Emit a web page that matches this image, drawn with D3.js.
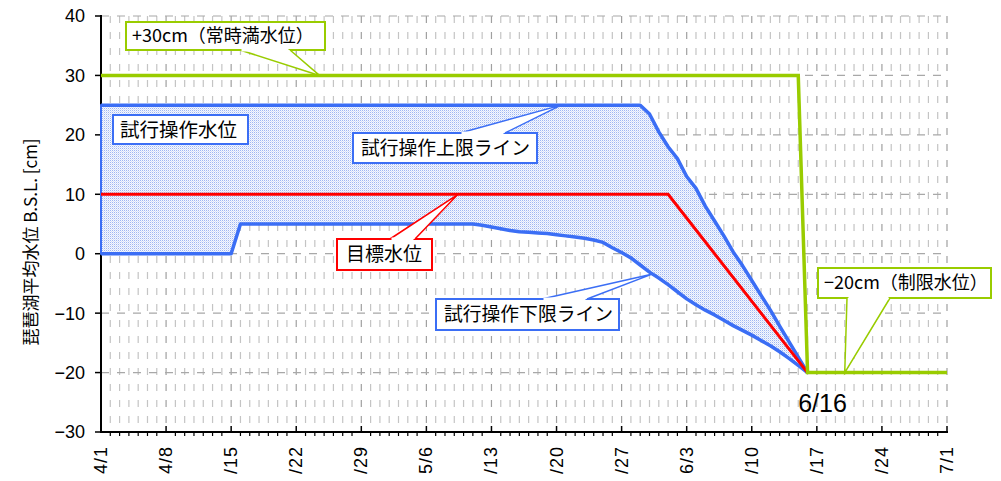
<!DOCTYPE html>
<html><head><meta charset="utf-8">
<script src="https://cdn.jsdelivr.net/npm/d3@7"></script>
<style>body{margin:0;background:#fff}svg{display:block}</style>
</head><body>
<script>
// ---- data (day index from 4/1) ----
const tickDays = [0,7,14,21,28,35,42,49,56,63,70,77,84,91];
const tickLabels = ["4/1","4/8","/15","/22","/29","5/6","/13","/20","/27","6/3","/10","/17","/24","7/1"];
const yTicks = [40,30,20,10,0,-10,-20,-30];

const fullLevel = [[0,30],[75,30],[76,-20],[91,-20]];         // +30cm / -20cm
const targetLevel = [[0,10],[61,10],[76,-20]];                 // 目標水位
const upperDays = [0,58,59,60,61,62,63,64,65,66,67,68,69,70,71,72,73,74,75,76];
const upperVals = [25,25,23.5,20.5,18,16,13,11,8,5.5,3,0.3,-2,-4.5,-7,-9.5,-12.2,-14.8,-17.4,-20];
const lowerDays = [0,14,15,40,41,42,43,44,45,46,47,48,49,50,51,52,53,54,55,56,57,58,59,60,61,62,63,64,65,66,67,68,69,70,71,72,73,74,75,76];
const lowerVals = [0,0,5,5,4.8,4.5,4.2,3.9,3.7,3.6,3.5,3.4,3.2,3.0,2.8,2.6,2.3,1.9,1.0,0.2,-0.7,-1.9,-3.1,-4.1,-5.2,-6.4,-7.6,-8.6,-9.5,-10.3,-11.2,-12.1,-12.9,-13.7,-14.6,-15.5,-16.5,-17.6,-18.8,-20];

const W = 1001, H = 481;
const svg = d3.select("body").append("svg").attr("width", W).attr("height", H);
const x = d3.scaleLinear().domain([0,91]).range([101,947]);
const y = d3.scaleLinear().domain([-30,40]).range([432,16]);
const numFont = "'Liberation Sans', Arial, sans-serif";
const jpFont = "'Noto Sans CJK JP', sans-serif";

// pattern for area
const defs = svg.append("defs");
const pat = defs.append("pattern").attr("id","dots").attr("width",2).attr("height",2).attr("patternUnits","userSpaceOnUse");
pat.append("rect").attr("width",2).attr("height",2).attr("fill","#f6f8fe");
pat.append("rect").attr("width",1).attr("height",1).attr("fill","#9fb6f2");
pat.append("rect").attr("x",1).attr("y",1).attr("width",1).attr("height",1).attr("fill","#d6e0f9");

// grid: vertical daily dashed
const days = d3.range(0,92);
svg.append("g").selectAll("line").data(days.filter(d=>d>0)).join("line")
  .attr("x1",d=>x(d)).attr("x2",d=>x(d)).attr("y1",y(40)).attr("y2",y(-30))
  .attr("stroke",d=>d%7===0?"#a0a0a0":"#c4c4c4").attr("stroke-width",1.2)
  .attr("stroke-dasharray","7,9");
// horizontal grid
svg.append("g").selectAll("line").data(yTicks.filter(v=>v>-30)).join("line")
  .attr("x1",x(0)).attr("x2",x(91)).attr("y1",d=>y(d)).attr("y2",d=>y(d))
  .attr("stroke","#a8a8a8").attr("stroke-width",1.2).attr("stroke-dasharray","8,8");

// axes
const ax = svg.append("g");
ax.append("line").attr("x1",x(0)).attr("x2",x(0)).attr("y1",y(40)-1).attr("y2",y(-30)+1).attr("stroke","#000").attr("stroke-width",2);
ax.append("line").attr("x1",x(0)).attr("x2",x(91)+1).attr("y1",y(-30)).attr("y2",y(-30)).attr("stroke","#000").attr("stroke-width",2);
ax.selectAll(".yt").data(yTicks).join("line").attr("class","yt")
  .attr("x1",x(0)-6).attr("x2",x(0)).attr("y1",d=>y(d)).attr("y2",d=>y(d)).attr("stroke","#000").attr("stroke-width",1.5);
ax.selectAll(".yl").data(yTicks).join("text").attr("class","yl")
  .attr("x",85).attr("y",d=>y(d)).attr("dy","0.36em").attr("text-anchor","end")
  .attr("font-family",numFont).attr("font-size",18).attr("fill","#000")
  .text(d=>d<0?"\u2212"+Math.abs(d):d);
ax.selectAll(".xm").data(days.filter(d=>d%7!==0)).join("line").attr("class","xm")
  .attr("x1",d=>x(d)).attr("x2",d=>x(d)).attr("y1",y(-30)).attr("y2",y(-30)+4).attr("stroke","#000").attr("stroke-width",1.2);
ax.selectAll(".xM").data(tickDays.filter(d=>d>0)).join("line").attr("class","xM")
  .attr("x1",d=>x(d)).attr("x2",d=>x(d)).attr("y1",y(-30)-6).attr("y2",y(-30)).attr("stroke","#000").attr("stroke-width",1.5);
ax.selectAll(".xl").data(tickDays).join("text").attr("class","xl")
  .attr("transform",(d)=>`translate(${x(d)+6},446) rotate(-90)`)
  .attr("text-anchor","end").attr("font-family",numFont).attr("font-size",18).attr("letter-spacing",1).attr("fill","#000")
  .text((d,i)=>tickLabels[i]);

// y title
svg.append("text").attr("transform","translate(37,242) rotate(-90)").attr("text-anchor","middle")
  .attr("font-family",jpFont).attr("font-size",17).attr("fill","#000").text("琵琶湖平均水位 B.S.L. [cm]");

// band area
const upper = upperDays.map((d,i)=>[d,upperVals[i]]);
const lower = lowerDays.map((d,i)=>[d,lowerVals[i]]);
const poly = upper.concat(lower.slice().reverse());
svg.append("path").attr("d", d3.line().x(d=>x(d[0])).y(d=>y(d[1]))(poly)+"Z")
  .attr("fill","url(#dots)").attr("stroke","#3b6ef5").attr("stroke-width",2);

const line = d3.line().x(d=>x(d[0])).y(d=>y(d[1]));
svg.append("path").attr("d",line(upper)).attr("fill","none").attr("stroke","#3b6ef5").attr("stroke-width",3.5).attr("stroke-linejoin","round");
svg.append("path").attr("d",line(lower)).attr("fill","none").attr("stroke","#3b6ef5").attr("stroke-width",3.5).attr("stroke-linejoin","round");
svg.append("path").attr("d",line(targetLevel)).attr("fill","none").attr("stroke","#ff0000").attr("stroke-width",3);
svg.append("path").attr("d",line(fullLevel)).attr("fill","none").attr("stroke","#99cc00").attr("stroke-width",3.5);

// callouts
function callout(opt){
  const g = svg.append("g");
  const [bx,by,bw,bh] = opt.box;
  g.append("rect").attr("x",bx).attr("y",by).attr("width",bw).attr("height",bh)
    .attr("fill","#fff").attr("stroke",opt.color).attr("stroke-width",2);
  if (opt.tail){
    const [a,b,ty] = opt.tail;
    const px = x(opt.target[0]), py = y(opt.target[1]);
    g.append("path").attr("d",`M${a},${ty} L${px},${py} L${b},${ty}`)
      .attr("fill","#fff").attr("stroke",opt.color).attr("stroke-width",1.5);
    g.append("line").attr("x1",a+1.5).attr("x2",b-1.5).attr("y1",ty).attr("y2",ty).attr("stroke","#fff").attr("stroke-width",3);
  }
  g.append("text").attr("x",bx+opt.tx).attr("y",by+bh/2).attr("dy","0.36em")
    .attr("font-family",jpFont).attr("font-size",opt.fs).attr("fill","#000")
    .text(opt.text);
}
callout({box:[126,22,199,28],color:"#99cc00",text:"+30cm（常時満水位）",tx:6,fs:18,tail:[240,290,50],target:[23.5,30]});
callout({box:[113,115,135,29],color:"#3b6ef5",text:"試行操作水位",tx:7,fs:19.5});
callout({box:[353,133,184,30],color:"#3b6ef5",text:"試行操作上限ライン",tx:8,fs:18.8,tail:[460,505,133],target:[49.5,25]});
callout({box:[337,239,95,31],color:"#ff0000",text:"目標水位",tx:9,fs:19,tail:[390,415,239],target:[38.4,10]});
callout({box:[436,299,183,31],color:"#3b6ef5",text:"試行操作下限ライン",tx:8,fs:18.8,tail:[542,587,299],target:[59.35,-3.4]});
callout({box:[818,268,173,30],color:"#99cc00",text:"\u221220cm（制限水位）",tx:6,fs:18,tail:[847,890,298],target:[80,-20]});

// 6/16 label
svg.append("text").attr("x",x(76)+15).attr("y",412).attr("text-anchor","middle")
  .attr("font-family",numFont).attr("font-size",25).attr("fill","#000").text("6/16");
</script>
</body></html>
